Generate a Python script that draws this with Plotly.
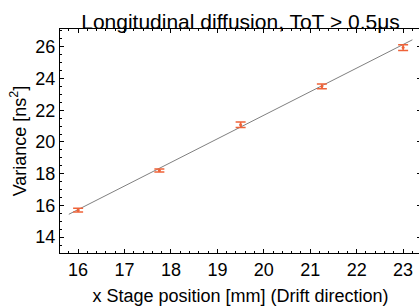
import plotly.graph_objects as go

# Data
x_pos = [16.0, 17.75, 19.5, 21.25, 23.0]
variance = [15.70, 18.20, 21.08, 23.50, 25.95]
variance_err = [0.12, 0.10, 0.17, 0.15, 0.18]
fit_x = [15.8, 23.2]
fit_y = [15.44, 26.44]

title_text = "Longitudinal diffusion, ToT > 0.5μs"
x_title = "x Stage position [mm] (Drift direction)"
y_title = "Variance [ns<sup>2</sup>]"

fig = go.Figure()
fig.add_trace(go.Scatter(
    x=fit_x, y=fit_y, mode="lines",
    line=dict(color="#808080", width=1), showlegend=False, hoverinfo="skip"))
fig.add_trace(go.Scatter(
    x=x_pos, y=variance, mode="markers",
    marker=dict(color="#ef6339", size=3),
    error_y=dict(type="data", array=variance_err, color="#ef6339", thickness=1.5, width=5),
    showlegend=False))

font = "Liberation Sans, Arial, sans-serif"
axis_common = dict(
    showgrid=False, zeroline=False, showline=True, linecolor="black", linewidth=1,
    mirror="ticks", ticks="inside", ticklen=4, tickcolor="black",
    tickfont=dict(family=font, size=18, color="black"),
)
fig.update_layout(
    width=421, height=306,
    margin=dict(l=60, r=0, t=29, b=53),
    paper_bgcolor="white", plot_bgcolor="white",
    title=dict(text=title_text, xref="paper", x=0.5, xanchor="center",
               yref="container", y=1 - 29 / 306, yanchor="bottom",
               font=dict(family=font, size=21, color="black")),
    xaxis=dict(range=[15.61, 23.385], dtick=1, tick0=16,
               minor=dict(dtick=0.2, ticks="inside", ticklen=2, tickcolor="black"),
               title=dict(text=x_title, font=dict(family=font, size=18, color="black"), standoff=12),
               **axis_common),
    yaxis=dict(range=[13.0, 27.12], dtick=2, tick0=14,
               minor=dict(dtick=0.5, ticks="inside", ticklen=2, tickcolor="black"),
               title=dict(text=y_title, font=dict(family=font, size=18, color="black"), standoff=4),
               **axis_common),
)
fig.write_html("out.html", config={"displayModeBar": False},
               post_script="document.body.style.margin='0';document.body.style.overflow='hidden';")
